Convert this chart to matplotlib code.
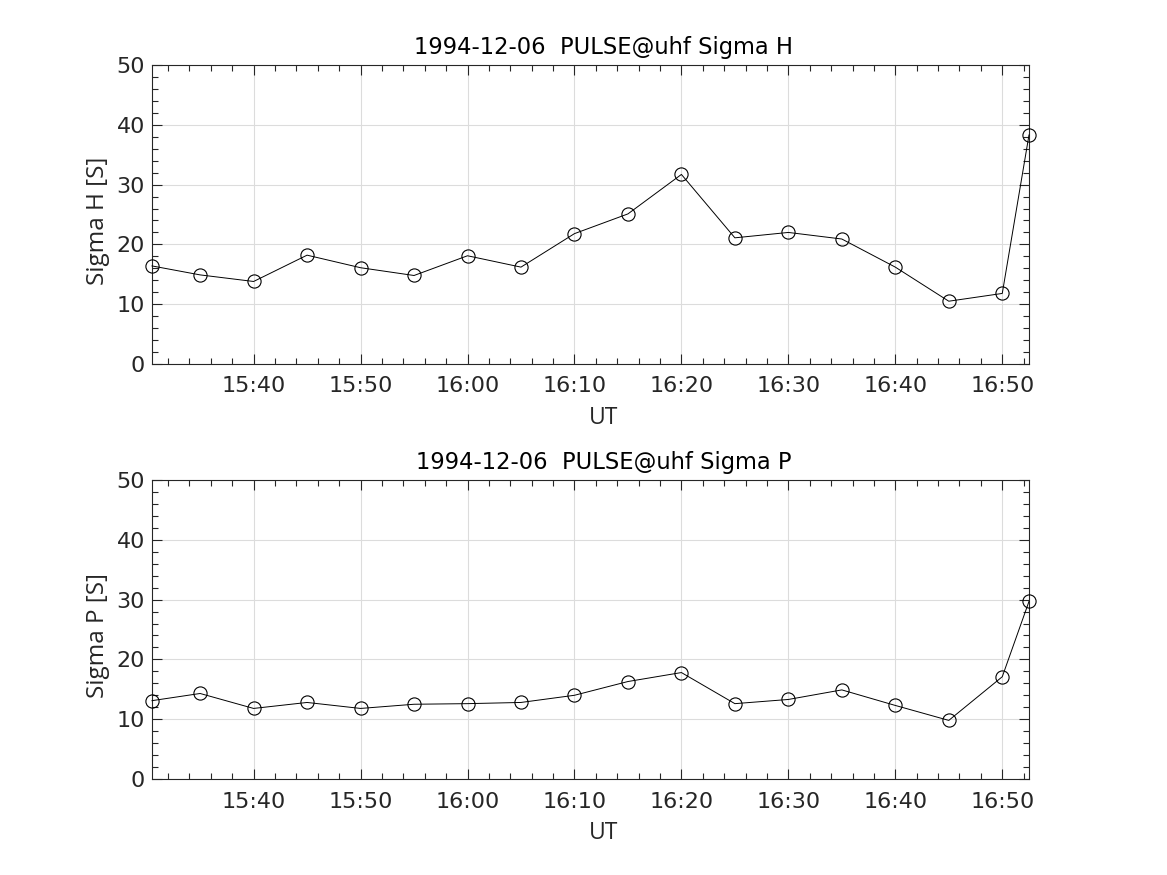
import numpy as np
import pandas as pd
import matplotlib
matplotlib.use('Agg')
import matplotlib.pyplot as plt
import matplotlib.dates as mdates
from matplotlib.ticker import MultipleLocator

# data
times = ['15:30:30', '15:35:00', '15:40:00', '15:45:00', '15:50:00', '15:55:00',
         '16:00:00', '16:05:00', '16:10:00', '16:15:00', '16:20:00', '16:25:00',
         '16:30:00', '16:35:00', '16:40:00', '16:45:00', '16:50:00', '16:52:30']
sigma_h = [16.4, 14.9, 13.8, 18.2, 16.1, 14.8, 18.1, 16.2, 21.8, 25.1,
           31.7, 21.1, 22.0, 20.9, 16.2, 10.5, 11.8, 38.3]
sigma_p = [13.1, 14.3, 11.8, 12.8, 11.8, 12.5, 12.6, 12.8, 14.0, 16.3,
           17.8, 12.6, 13.3, 14.9, 12.3, 9.8, 17.1, 29.7]
date = '1994-12-06'

t = pd.to_datetime([date + ' ' + s for s in times], format='%Y-%m-%d %H:%M:%S')

plt.rcParams['font.family'] = 'DejaVu Sans'
txt_col = '#262626'

fig = plt.figure(figsize=(11.67, 8.75), dpi=100)
ax1 = fig.add_axes([152/1167, 1-364/875, 877/1167, 299/875])
ax2 = fig.add_axes([152/1167, 1-779/875, 877/1167, 299/875])


def _panel(ax, y, name):
    ax.plot(t, y, '-o', color='black', lw=0.7, ms=9.5,
            mfc='none', mec='black', mew=0.8, zorder=3, clip_on=False)
    ax.set_xlim(t[0], t[-1])
    ax.set_ylim(0, 50)
    ax.xaxis.set_major_locator(mdates.MinuteLocator(byminute=range(0, 60, 10)))
    ax.xaxis.set_minor_locator(mdates.MinuteLocator(byminute=range(0, 60, 2)))
    ax.xaxis.set_major_formatter(mdates.DateFormatter('%H:%M'))
    ax.yaxis.set_major_locator(MultipleLocator(10))
    ax.yaxis.set_minor_locator(MultipleLocator(2))
    ax.tick_params(which='both', direction='in', top=True, right=True,
                   colors=txt_col, labelsize=16, width=0.8)
    ax.tick_params(which='major', length=7)
    ax.tick_params(which='minor', length=4)
    ax.tick_params(axis='x', pad=9)
    ax.tick_params(axis='y', pad=5)
    ax.grid(True, which='major', color='#dcdcdc', lw=0.8)
    ax.set_axisbelow(True)
    for s in ax.spines.values():
        s.set_color(txt_col)
        s.set_linewidth(0.8)
    ax.set_xlabel('UT', fontsize=16.5, color=txt_col, family='Open Sans')
    ax.xaxis.set_label_coords(0.5 + 13/877, -0.142)
    ax.set_ylabel(name + ' [S]', fontsize=17.5, color=txt_col,
                  family='Open Sans')
    ax.yaxis.set_label_coords(-0.048, 0.5 - 6/299)
    ax.set_title(date + '  PULSE@uhf ' + name, fontsize=16.3, color='black',
                 pad=8, x=0.5 + 13/877)


_panel(ax1, sigma_h, 'Sigma H')
_panel(ax2, sigma_p, 'Sigma P')

fig.savefig('out.png', dpi=100)
